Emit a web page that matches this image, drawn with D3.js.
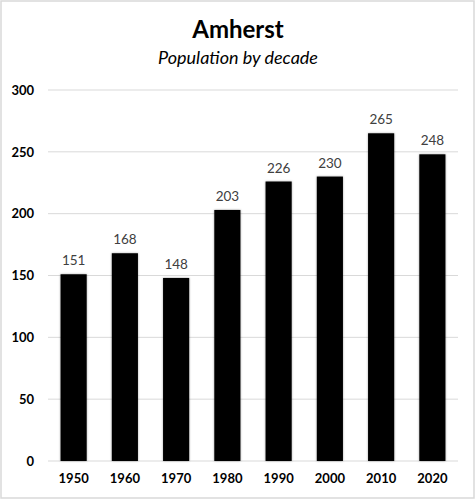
<!DOCTYPE html>
<html>
<head>
<meta charset="utf-8">
<script src="https://cdn.jsdelivr.net/npm/d3@7"></script>
<style>
  body { margin: 0; background: #fff; }
  svg { display: block; font-family: Lato, "Open Sans", sans-serif; }
</style>
</head>
<body>
<svg id="chart"></svg>
<script>
const decades = ['1950', '1960', '1970', '1980', '1990', '2000', '2010', '2020'];
const population = [151, 168, 148, 203, 226, 230, 265, 248];
const yTicks = [0, 50, 100, 150, 200, 250, 300];

const width = 476, height = 500;
const margin = {top: 90, right: 18, bottom: 39, left: 48};

const svg = d3.select('#chart')
    .attr('width', width)
    .attr('height', height);

// 枠線
svg.append('rect')
    .attr('x', 1).attr('y', 1)
    .attr('width', width - 3).attr('height', height - 3)
    .attr('fill', '#fff')
    .attr('stroke', '#d9d9d9')
    .attr('stroke-width', 1.5);

const defs = svg.append('defs');
const shadow = defs.append('filter').attr('id', 'shadow')
    .attr('x', '-20%').attr('y', '-5%').attr('width', '140%').attr('height', '110%');
shadow.append('feDropShadow')
    .attr('dx', 0).attr('dy', 0).attr('stdDeviation', 1.2)
    .attr('flood-color', '#000').attr('flood-opacity', 0.35);

const xscale = d3.scaleBand()
    .domain(decades)
    .range([margin.left, width - margin.right])
    .paddingInner(0.49)
    .paddingOuter(0.245);

const yscale = d3.scaleLinear()
    .domain([0, 300])
    .range([height - margin.bottom, margin.top]);

// グリッド
svg.append('g')
    .selectAll('line')
    .data(yTicks)
    .join('line')
    .attr('x1', margin.left)
    .attr('x2', width - margin.right)
    .attr('y1', d => yscale(d))
    .attr('y2', d => yscale(d))
    .attr('stroke', '#d9d9d9')
    .attr('stroke-width', 1);

// y軸
const yaxis = svg.append('g')
    .attr('transform', `translate(${margin.left}, 0)`)
    .call(d3.axisLeft(yscale).tickValues(yTicks).tickSize(0).tickPadding(14));
yaxis.select('.domain').remove();
yaxis.selectAll('text')
    .attr('font-family', 'Lato, sans-serif')
    .style('font-size', '13px')
    .style('font-weight', 'bold')
    .attr('fill', '#000');

// x軸
const xaxis = svg.append('g')
    .attr('transform', `translate(0, ${height - margin.bottom})`)
    .call(d3.axisBottom(xscale).tickSize(0).tickPadding(13));
xaxis.select('.domain').remove();
xaxis.selectAll('text')
    .attr('font-family', 'Lato, sans-serif')
    .style('font-size', '13px')
    .style('font-weight', 'bold')
    .attr('fill', '#000');

// 棒
svg.append('g')
    .selectAll('rect')
    .data(population)
    .join('rect')
    .attr('x', (d, i) => xscale(decades[i]))
    .attr('y', d => yscale(d))
    .attr('width', xscale.bandwidth())
    .attr('height', d => yscale(0) - yscale(d))
    .attr('fill', '#000')
    .attr('filter', 'url(#shadow)');

// ラベル
svg.append('g')
    .selectAll('text')
    .data(population)
    .join('text')
    .attr('x', (d, i) => xscale(decades[i]) + xscale.bandwidth() / 2)
    .attr('y', d => yscale(d) - 9)
    .attr('text-anchor', 'middle')
    .style('font-size', '13.5px')
    .attr('fill', '#404040')
    .text(d => d);

// タイトル
svg.append('text')
    .attr('x', width / 2)
    .attr('y', 38)
    .attr('text-anchor', 'middle')
    .style('font-size', '24px')
    .style('font-weight', 'bold')
    .text('Amherst');

svg.append('text')
    .attr('x', width / 2)
    .attr('y', 64)
    .attr('text-anchor', 'middle')
    .style('font-size', '18px')
    .style('font-style', 'italic')
    .text('Population by decade');
</script>
</body>
</html>
